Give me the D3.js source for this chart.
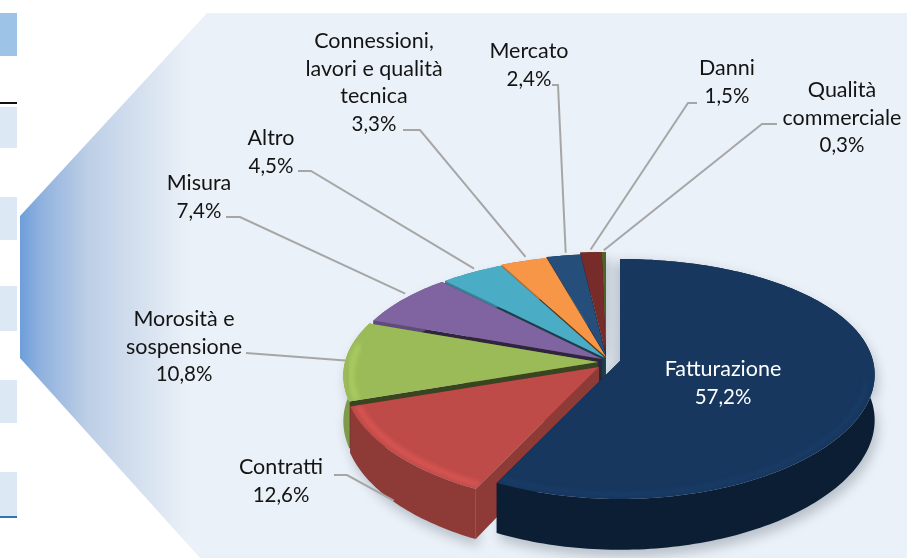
<!DOCTYPE html>
<html>
<head>
<meta charset="utf-8">
<script src="https://cdn.jsdelivr.net/npm/d3@7"></script>
<style>
  html, body { margin: 0; padding: 0; background: #fff; }
  svg { display: block; }
  text { font-family: Lato, "Open Sans", sans-serif; font-size: 21.5px; fill: #141414; text-anchor: middle; }
</style>
</head>
<body>
<div id="chart"></div>
<script>
// values
const categories = ['Fatturazione', 'Contratti', 'Morosità e sospensione', 'Misura', 'Altro', 'Connessioni, lavori e qualità tecnica', 'Mercato', 'Danni', 'Qualità commerciale'];
const shares = [57.2, 12.6, 10.8, 7.4, 4.5, 3.3, 2.4, 1.5, 0.3];
const shareLabels = ['57,2%', '12,6%', '10,8%', '7,4%', '4,5%', '3,3%', '2,4%', '1,5%', '0,3%'];
const colors = ['#17375e', '#be4b48', '#9bbb59', '#8064a2', '#4bacc6', '#f79646', '#254e7a', '#772c2a', '#4f6228'];

// layout
const width = 907, height = 558;
const centers = [[620, 361], [599, 367], [598, 362], [602, 359], [605, 358], [606, 357], [606, 356], [606, 354], [606, 354]];
const rx = 253, ry = 117.3, perspX = 0.114, perspY = 0.15, depth = 45;
const labelLines = [
    ['Fatturazione'], ['Contratti'], ['Morosità e', 'sospensione'], ['Misura'], ['Altro'],
    ['Connessioni,', 'lavori e qualità', 'tecnica'], ['Mercato'], ['Danni'], ['Qualità', 'commerciale']
];
const labelPos = [[723, 376], [281, 474], [184, 326], [199, 190], [271, 145], [374, 48], [529, 58], [727, 75], [842, 97]];
// leader: start and elbow of the line, where along the slice it ends, how far out and how far down
const leaders = [
    null,
    { from: [334, 475], elbow: [347, 475], at: 0.5, reach: 1.0, drop: 44 },
    { from: [246, 353], elbow: [246, 353], at: 0.5, reach: 1.0, drop: 0 },
    { from: [226, 217], elbow: [240, 217], at: 0.6, reach: 1.03, drop: 0 },
    { from: [298, 171], elbow: [311, 171], at: 0.6, reach: 1.03, drop: 0 },
    { from: [403, 130], elbow: [420, 130], at: 0.6, reach: 1.04, drop: 0 },
    { from: [552, 85], elbow: [558, 85], at: 0.6, reach: 1.03, drop: 0 },
    { from: [697, 103], elbow: [688, 103], at: 0.5, reach: 1.03, drop: 0 },
    { from: [777, 124], elbow: [762, 124], at: 0.5, reach: 1.02, drop: 0 }
];
const sideBlocks = [[13, 56, '#9dc3e6'], [107, 148, '#dce9f5'], [197, 240, '#dce9f5'], [286, 331, '#dce9f5'], [380, 423, '#dce9f5'], [472, 516, '#dce9f5']];

const svg = d3.select('#chart').append('svg').attr('width', width).attr('height', height);
const defs = svg.append('defs');

const bgGrad = defs.append('linearGradient').attr('id', 'bg')
    .attr('gradientUnits', 'userSpaceOnUse').attr('x1', 20).attr('x2', 190).attr('y1', 0).attr('y2', 0);
bgGrad.append('stop').attr('offset', 0).attr('stop-color', '#6d9edb');
bgGrad.append('stop').attr('offset', 0.12).attr('stop-color', '#8fb1de');
bgGrad.append('stop').attr('offset', 0.4).attr('stop-color', '#bdcfe6');
bgGrad.append('stop').attr('offset', 1).attr('stop-color', '#ebf1f8');

defs.append('filter').attr('id', 'soft').attr('x', '-20%').attr('y', '-20%').attr('width', '140%').attr('height', '140%')
    .append('feGaussianBlur').attr('stdDeviation', 6);
defs.append('filter').attr('id', 'glow').attr('x', '-20%').attr('y', '-20%').attr('width', '140%').attr('height', '140%')
    .append('feGaussianBlur').attr('stdDeviation', 2.6);

// side strip of the page behind the chart
svg.selectAll('rect.block').data(sideBlocks).join('rect')
    .attr('class', 'block')
    .attr('x', 0).attr('width', 17)
    .attr('y', d => d[0]).attr('height', d => d[1] - d[0])
    .attr('fill', d => d[2]);
svg.append('rect').attr('x', 0).attr('y', 102).attr('width', 17).attr('height', 2).attr('fill', '#111');
svg.append('rect').attr('x', 0).attr('y', 516).attr('width', 17).attr('height', 2).attr('fill', '#2e75b6');

svg.append('path')
    .attr('d', 'M20,216L207,13L907,13L907,558L200,558L20,358Z')
    .attr('fill', 'url(#bg)');

// perspective view of the disc
function project(center, theta, r, z) {
    const u = r * Math.sin(theta), v = -r * Math.cos(theta);
    const wx = 1 / (1 - perspX * v), wy = 1 / (1 - perspY * v);
    return [center[0] + rx * u * wx, center[1] + ry * v * wy + z * wx];
}

const line = d3.line();
const arcs = d3.pie().sort(null).value(d => d)(shares);

function rim(i, z, r = 1, from, to) {
    const a = from === undefined ? arcs[i].startAngle : from;
    const b = to === undefined ? arcs[i].endAngle : to;
    const n = Math.max(2, Math.ceil((b - a) / 0.02));
    return d3.range(n + 1).map(k => project(centers[i], a + (b - a) * k / n, r, z));
}

function topPath(i) {
    return line([project(centers[i], 0, 0, 0), ...rim(i, 0)]) + 'Z';
}

function wallPath(i) {
    return line([...rim(i, 0), ...rim(i, depth).reverse()]) + 'Z';
}

function cutPath(i, angle) {
    return line([
        project(centers[i], 0, 0, 0), project(centers[i], angle, 1, 0),
        project(centers[i], angle, 1, depth), project(centers[i], 0, 0, depth)
    ]) + 'Z';
}

// soft shadow on the panel
const shadow = svg.append('g').attr('filter', 'url(#soft)').attr('opacity', 0.55);
arcs.forEach((d, i) => {
    shadow.append('path').attr('d', wallPath(i)).attr('fill', '#8d97a3').attr('transform', 'translate(3,7)');
    shadow.append('path').attr('d', topPath(i)).attr('fill', '#8d97a3').attr('transform', i === 0 ? 'translate(-5,3)' : 'translate(3,7)');
});

// back to front, so the big slices overlap the small ones
const order = d3.range(shares.length).reverse();
order.forEach(i => {
    const g = svg.append('g').attr('class', 'slice');
    const base = d3.color(colors[i]);
    const dark = i === 0 ? '#0b1e33' : i === 1 ? '#8e3a37' : i === 2 ? '#7f9a49' : base.darker(0.8).formatHex();
    g.append('path').attr('d', cutPath(i, arcs[i].endAngle)).attr('fill', base.darker(1.6).formatHex());
    g.append('path').attr('d', cutPath(i, arcs[i].startAngle)).attr('fill', i === 1 ? '#8e3a37' : base.darker(2.8).formatHex());
    g.append('path').attr('d', wallPath(i)).attr('fill', dark);
    g.append('path').attr('d', topPath(i)).attr('fill', colors[i]);

    // bevel along the rim, brighter towards the viewer
    const clipId = 'clip' + i;
    defs.append('clipPath').attr('id', clipId).append('path').attr('d', topPath(i));
    const a = Math.max(arcs[i].startAngle, Math.PI * 0.55);
    const b = Math.min(arcs[i].endAngle, Math.PI * 1.55);
    if (a < b) {
        g.append('g').attr('clip-path', `url(#${clipId})`)
            .append('path')
            .attr('d', line(rim(i, 0, 0.97, a, b)))
            .attr('fill', 'none')
            .attr('stroke', base.brighter(i === 0 ? 0.7 : 0.5).formatHex())
            .attr('stroke-width', i === 0 ? 4 : 5)
            .attr('opacity', i === 1 ? 0.85 : i === 0 ? 0.4 : 0.55)
            .attr('filter', 'url(#glow)');
    }
});

// leader lines, they end on the slice they belong to
leaders.forEach((d, i) => {
    if (!d) return;
    const angle = arcs[i].startAngle + (arcs[i].endAngle - arcs[i].startAngle) * d.at;
    const end = project(centers[i], angle, d.reach, d.drop);
    svg.append('path')
        .attr('d', line([d.from, d.elbow, end]))
        .attr('fill', 'none')
        .attr('stroke', '#a6a6a6')
        .attr('stroke-width', 2);
});

// labels
const lineStep = 27.5;
categories.forEach((name, i) => {
    const t = svg.append('text')
        .attr('class', 'label')
        .attr('transform', `translate(${labelPos[i][0]},${labelPos[i][1]})`)
        .style('fill', i === 0 ? '#fff' : null);
    labelLines[i].forEach((s, k) => {
        t.append('tspan').attr('x', 0).attr('y', k * lineStep).text(s);
    });
    t.append('tspan').attr('x', 0).attr('y', labelLines[i].length * lineStep)
        .style('font-size', '20.5px').text(shareLabels[i]);
});
</script>
</body>
</html>
